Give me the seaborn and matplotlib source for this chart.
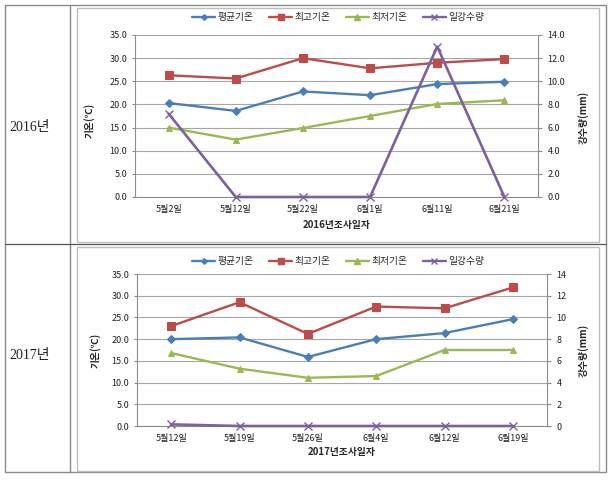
import numpy as np
import pandas as pd
import matplotlib
matplotlib.use("Agg")
import matplotlib.pyplot as plt
import seaborn as sns
from matplotlib.lines import Line2D
from matplotlib.patches import Rectangle

# ---------------- data ----------------
series_names = ["평균기온", "최고기온", "최저기온", "일강수량"]

dates_2016 = ["5월2일", "5월12일", "5월22일", "6월1일", "6월11일", "6월21일"]
avg_2016 = [20.3, 18.6, 22.8, 22.0, 24.4, 24.9]
max_2016 = [26.3, 25.6, 30.0, 27.8, 29.0, 29.8]
min_2016 = [15.0, 12.4, 14.9, 17.5, 20.1, 20.9]
rain_2016 = [7.2, 0.0, 0.0, 0.0, 13.0, 0.0]

dates_2017 = ["5월12일", "5월19일", "5월26일", "6월4일", "6월12일", "6월19일"]
avg_2017 = [20.0, 20.4, 15.9, 20.0, 21.4, 24.6]
max_2017 = [23.0, 28.5, 21.2, 27.5, 27.1, 31.9]
min_2017 = [16.8, 13.2, 11.1, 11.5, 17.5, 17.5]
rain_2017 = [0.15, 0.0, 0.0, 0.0, 0.0, 0.0]

temp_ticks = [0, 5, 10, 15, 20, 25, 30, 35]
rain_ticks = [0, 2, 4, 6, 8, 10, 12, 14]

# ---------------- style ----------------
sns.set_style("white")
plt.rcParams["font.family"] = ["Noto Sans CJK KR", "DejaVu Sans"]

W, H = 615, 480
fig = plt.figure(figsize=(W / 100, H / 100), dpi=100)

colors = {"평균기온": "#4A7EBB", "최고기온": "#BE4B48", "최저기온": "#98B954", "일강수량": "#7D60A0"}
markers = {"평균기온": "D", "최고기온": "s", "최저기온": "^", "일강수량": "x"}
msizes = {"평균기온": 3.6, "최고기온": 5.2, "최저기온": 5.0, "일강수量": 5}
msizes["일강수량"] = 5.5
GRID = "#A6A6A6"
AXC = "#8C8C8C"


def fy(y):
    return 1 - y / H


def fx(x):
    return x / W


def draw(rect, dates, avg, mx, mn, rain, xlabel, rain_fmt, legend_xy, ylab_pos, rlab_pos, xlabpad):
    ax = fig.add_axes(rect)
    x = np.arange(len(dates))
    df = pd.DataFrame({
        "x": np.tile(x, 3),
        "v": list(avg) + list(mx) + list(mn),
        "s": [series_names[0]] * len(x) + [series_names[1]] * len(x) + [series_names[2]] * len(x),
    })
    for name in series_names[:3]:
        sns.lineplot(data=df[df["s"] == name], x="x", y="v", ax=ax, color=colors[name],
                     marker=markers[name], markersize=msizes[name], markeredgecolor=colors[name],
                     linewidth=1.7, legend=False, clip_on=False, zorder=3)
    ax.set_xlim(-0.5, len(x) - 0.5)
    ax.set_ylim(0, 35)
    ax.set_yticks(temp_ticks)
    ax.set_yticklabels([f"{t:.1f}" for t in temp_ticks])
    ax.set_xticks(x)
    ax.set_xticklabels(dates)
    ax.set_xticks(np.arange(-0.5, len(x), 1), minor=True)
    ax.tick_params(axis="x", which="major", length=0, pad=6, labelsize=6.5, colors="#222222")
    ax.tick_params(axis="x", which="minor", length=3, width=0.8, color=AXC, direction="out")
    ax.tick_params(axis="y", which="major", length=2.5, width=0.8, color=AXC, pad=3,
                   labelsize=6.5, labelcolor="#222222", left=True)
    ax.yaxis.grid(True, color=GRID, linewidth=0.8)
    ax.xaxis.grid(False)
    ax.set_axisbelow(True)
    for side in ["top", "right"]:
        ax.spines[side].set_visible(False)
    for side in ["left", "bottom"]:
        ax.spines[side].set_color(AXC)
        ax.spines[side].set_linewidth(0.8)
    ax.set_xlabel(xlabel, fontsize=7, fontweight="bold", labelpad=xlabpad)
    ax.set_ylabel("기온(℃)", fontsize=7, fontweight="bold")
    ax.yaxis.set_label_coords(*ylab_pos)

    ax2 = ax.twinx()
    rdf = pd.DataFrame({"x": x, "v": rain})
    sns.lineplot(data=rdf, x="x", y="v", ax=ax2, color=colors["일강수량"], marker="x",
                 markersize=msizes["일강수량"], markeredgecolor=colors["일강수량"], markeredgewidth=1.0,
                 linewidth=1.9, legend=False, clip_on=False, zorder=4)
    ax2.set_ylim(0, 14)
    ax2.set_yticks(rain_ticks)
    ax2.set_yticklabels([rain_fmt.format(t) for t in rain_ticks])
    ax2.tick_params(axis="y", which="major", length=3, width=0.8, color=AXC, pad=4,
                    labelsize=6.5, labelcolor="#222222", right=True)
    for side in ["top", "left", "bottom"]:
        ax2.spines[side].set_visible(False)
    ax2.spines["right"].set_color(AXC)
    ax2.spines["right"].set_linewidth(0.8)
    ax2.set_xlabel("")
    ax2.set_ylabel("강수량(mm)", fontsize=7, fontweight="bold", rotation=90)
    ax2.yaxis.set_label_coords(*rlab_pos)
    ax2.set_xlim(-0.5, len(x) - 0.5)

    handles = [Line2D([0], [0], color=colors[n], marker=markers[n], markersize=msizes[n] * 0.8,
                      markeredgecolor=colors[n], linewidth=1.7) for n in series_names]
    fig.legend(handles, series_names, loc="center", bbox_to_anchor=legend_xy, ncol=4, frameon=False,
               fontsize=7, handlelength=2.4, handletextpad=0.2, columnspacing=1.6)
    return ax, ax2


# table lines and chart frames
fig.add_artist(Rectangle((fx(5), fy(472)), fx(606) - fx(5), fy(5) - fy(472), transform=fig.transFigure,
                         fill=False, edgecolor="#8A8A8A", linewidth=1.0))
fig.add_artist(Line2D([fx(69.5), fx(69.5)], [fy(5), fy(472)], transform=fig.transFigure,
                      color="#8A8A8A", linewidth=1.0))
fig.add_artist(Line2D([fx(5), fx(606)], [fy(244), fy(244)], transform=fig.transFigure,
                      color="#555555", linewidth=0.9))
for (top, bot) in [(7.5, 241.5), (247, 470.5)]:
    fig.add_artist(Rectangle((fx(77), fy(bot)), fx(599) - fx(77), fy(top) - fy(bot), transform=fig.transFigure,
                             fill=False, edgecolor="#BDBDBD", linewidth=1.0))

serif_fam = ["Liberation Serif", "Noto Sans CJK KR"]
fig.text(fx(30), fy(127), "2016년", ha="center", va="center", fontsize=10, family=serif_fam, color="#222222")
fig.text(fx(30), fy(355), "2017년", ha="center", va="center", fontsize=10, family=serif_fam, color="#222222")

# 2016 chart
r16 = [fx(135), fy(197), fx(538) - fx(135), fy(35) - fy(197)]
draw(r16, dates_2016, avg_2016, max_2016, min_2016, rain_2016, "2016년조사일자", "{:.1f}",
     (fx(338), fy(17)), (-0.099, 0.475), (1.10, 0.49), 4)

# 2017 chart
r17 = [fx(137), fy(426), fx(547) - fx(137), fy(274) - fy(426)]
draw(r17, dates_2017, avg_2017, max_2017, min_2017, rain_2017, "2017년조사일자", "{:d}",
     (fx(338), fy(261)), (-0.088, 0.5), (1.076, 0.5), 3)

fig.savefig("out.png", dpi=100)
